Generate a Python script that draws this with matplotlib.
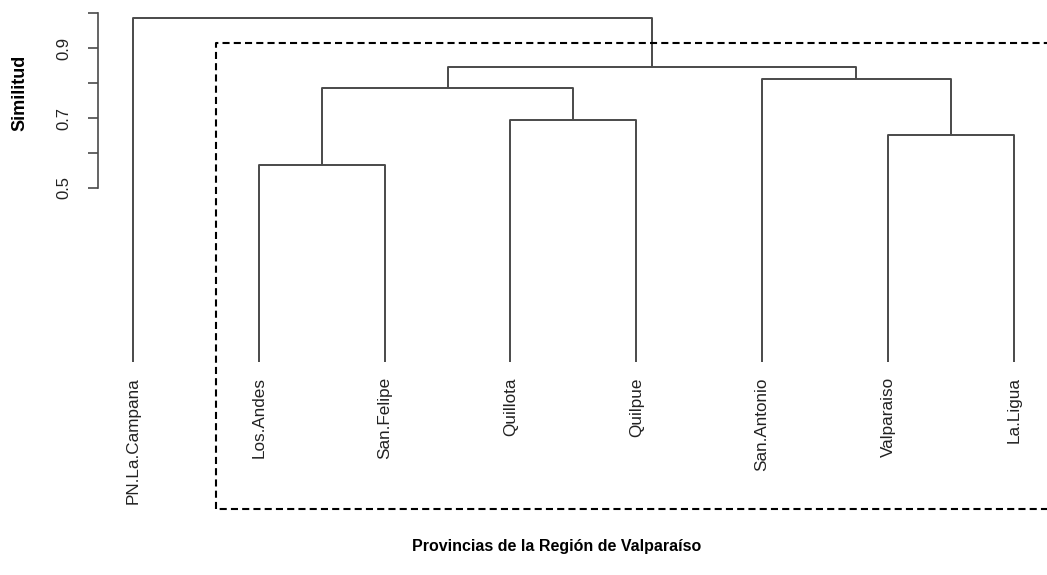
import matplotlib
matplotlib.use("Agg")
import matplotlib.pyplot as plt

plt.rcParams['font.family'] = ['Liberation Sans', 'DejaVu Sans']

# ---- data -------------------------------------------------------------
labels = ["PN.La.Campana", "Los.Andes", "San.Felipe", "Quillota",
          "Quilpue", "San.Antonio", "Valparaiso", "La.Ligua"]
# merges: negative = leaf index (1-based), positive = earlier merge (1-based)
merge_left = [-2, -7, -4, 1, -6, 4, -1]
merge_right = [-3, -8, -5, 3, 2, 5, 6]
merge_height = [0.564, 0.651, 0.694, 0.786, 0.812, 0.845, 0.986]
yticks = [0.5, 0.6, 0.7, 0.8, 0.9, 1.0]
ytick_labels = ["0.5", "", "0.7", "", "0.9", ""]
title_y = "Similitud"
title_x = "Provincias de la Región de Valparaíso"
k_clusters = 2

# ---- figure -----------------------------------------------------------
W, H = 1047, 575
fig = plt.figure(figsize=(W / 100, H / 100), dpi=100)
ax = fig.add_axes([97.8 / W, (H - 509) / H, (1049 - 97.8) / W, (509 - 10) / H])

n = len(labels)
ax.set_xlim(1 - 0.04 * (n - 1), n + 0.04 * (n - 1))
ax.set_ylim(-0.422, 1.01)

line_kw = dict(color="#4a4a4a", lw=1.4, solid_capstyle="butt", clip_on=False)

pos = {}
hgt = {}


def node_xy(idx):
    if idx < 0:
        return float(-idx), 0.0
    return pos[idx], hgt[idx]


for i, (a, b, h) in enumerate(zip(merge_left, merge_right, merge_height), start=1):
    xa, ya = node_xy(a)
    xb, yb = node_xy(b)
    ax.plot([xa, xa, xb, xb], [ya, h, h, yb], **line_kw)
    pos[i] = (xa + xb) / 2
    hgt[i] = h

# leaf labels
for i, lab in enumerate(labels, start=1):
    ax.annotate(lab, xy=(i, 0), xytext=(0, -11), textcoords="offset points",
                rotation=90, ha="center", va="top", fontsize=12.3,
                color="#222222")

# rect.hclust style box around cluster 2 (leaves 2..n)
sorted_h = sorted(merge_height, reverse=True)
rect_top = (sorted_h[k_clusters - 2] + sorted_h[k_clusters - 1]) / 2
ybot = ax.get_ylim()[0]
rx0 = 1 + 0.66
rx1 = n + 0.33
ax.plot([rx0, rx0, rx1, rx1, rx0], [ybot, rect_top, rect_top, ybot, ybot],
        color="black", lw=1.5, linestyle=(0, (3.4, 2.0)), clip_on=False)

# axes styling
for s in ["top", "right", "bottom"]:
    ax.spines[s].set_visible(False)
ax.spines["left"].set_bounds(yticks[0], yticks[-1])
ax.spines["left"].set_color("#4a4a4a")
ax.spines["left"].set_linewidth(1.2)
ax.set_xticks([])
ax.set_yticks(yticks)
ax.set_yticklabels(ytick_labels, rotation=90, va="center", fontsize=12,
                   color="#222222")
ax.tick_params(axis="y", length=7.2, width=1.2, color="#4a4a4a", pad=12)

fig.text(20 / W, 1 - 93 / H, title_y, rotation=90, ha="center", va="center",
         fontsize=13, fontweight="bold")
fig.text(557 / W, 1 - 547 / H, title_x, ha="center", va="center",
         fontsize=11.5, fontweight="bold")

fig.savefig("out.png", dpi=100)
